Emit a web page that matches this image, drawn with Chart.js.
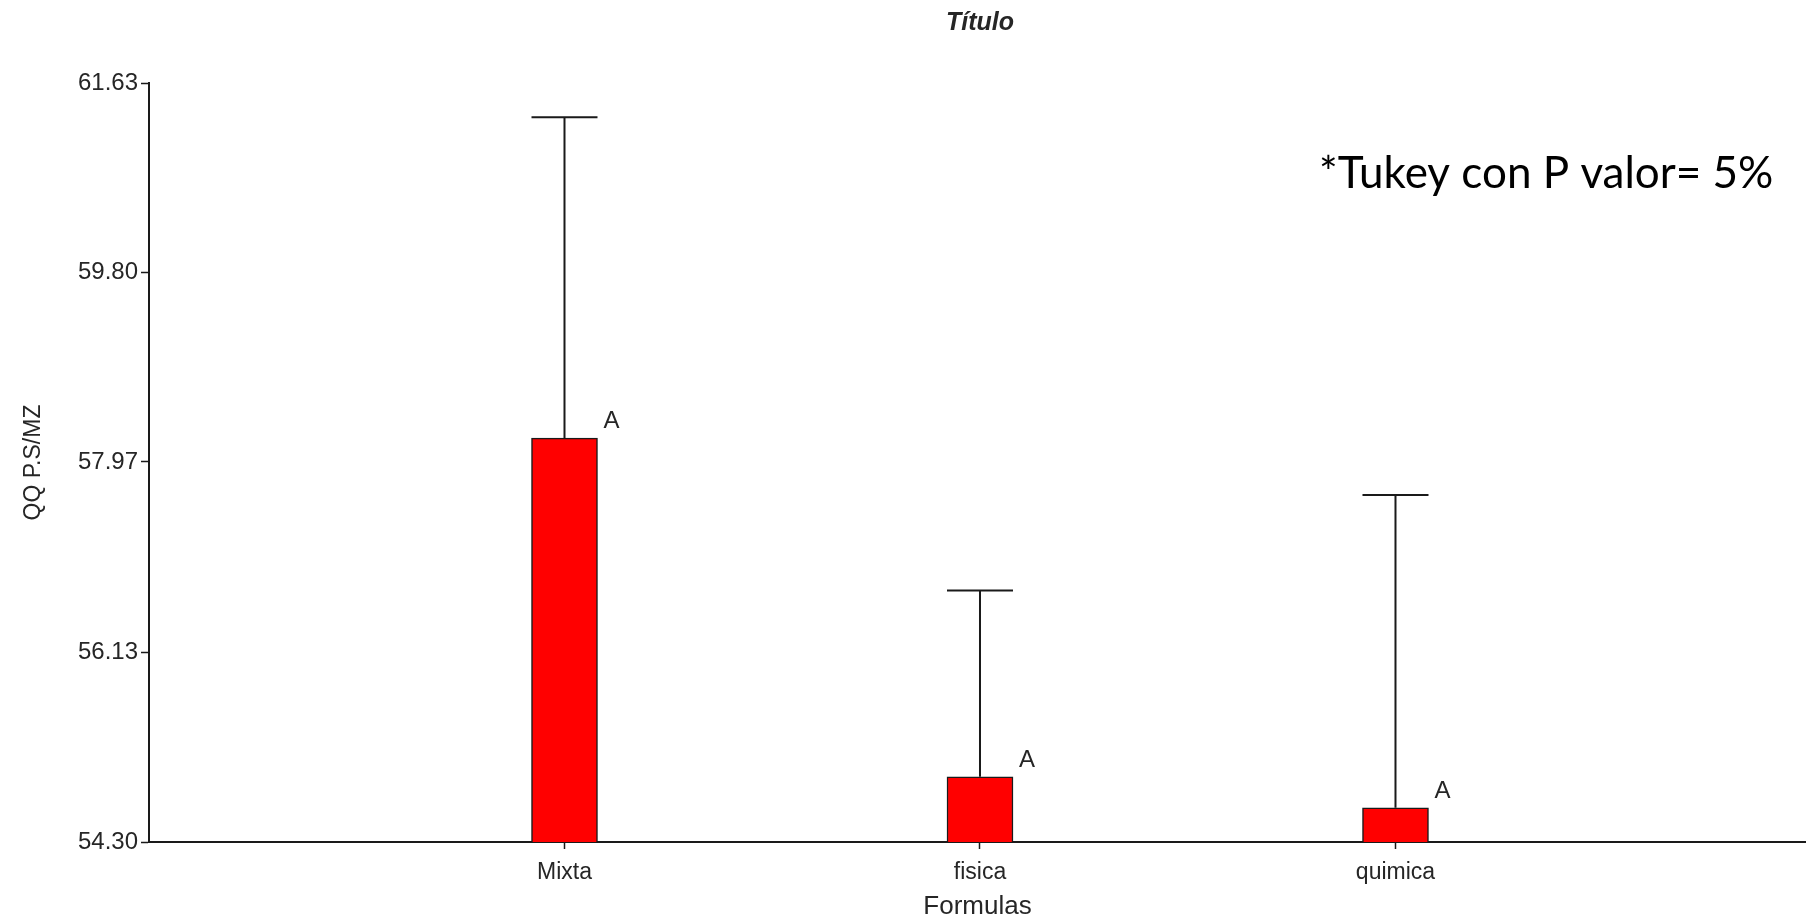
<!DOCTYPE html>
<html>
<head>
<meta charset="utf-8">
<script src="https://cdn.jsdelivr.net/npm/chart.js@4/dist/chart.umd.min.js"></script>
<style>
  html, body { margin: 0; padding: 0; background: #ffffff; overflow: hidden; }
  canvas { display: block; }
</style>
</head>
<body>
<canvas id="chart" width="1806" height="922"></canvas>
<script>
// Treatment means with the upper end of each error bar (QQ P.S/MZ)
const categories = ['Mixta', 'fisica', 'quimica'];
const means = [58.20, 54.93, 54.63];
const upperLimits = [61.30, 56.73, 57.65];
const tukeyLetters = ['A', 'A', 'A'];
const yTicks = [54.30, 56.13, 57.97, 59.80, 61.63];
const yMin = 54.30;
const yMax = 61.63;

const chartTitle = 'Título';
const yTitle = 'QQ P.S/MZ';
const xTitle = 'Formulas';
const note = '*Tukey con P valor= 5%';

const ink = '#1a1a1a';
const textInk = '#262626';
const labelFont = '"Liberation Sans", Arial, sans-serif';

// Error bars, group letters, title and the Tukey note
const extras = {
  id: 'extras',
  afterDatasetsDraw(chart) {
    const { ctx, scales: { x, y } } = chart;
    const meta = chart.getDatasetMeta(0);
    ctx.save();
    meta.data.forEach((bar, i) => {
      const cx = x.getPixelForValue(i + 1);
      const yTop = y.getPixelForValue(means[i]);
      const yUp = y.getPixelForValue(upperLimits[i]);
      const half = bar.width / 2;
      ctx.strokeStyle = ink;
      ctx.lineWidth = 2;
      ctx.beginPath();
      ctx.moveTo(cx, yTop);
      ctx.lineTo(cx, yUp);
      ctx.moveTo(cx - half, yUp);
      ctx.lineTo(cx + half, yUp);
      ctx.stroke();

      ctx.fillStyle = textInk;
      ctx.font = '24px ' + labelFont;
      ctx.textAlign = 'left';
      ctx.textBaseline = 'alphabetic';
      ctx.fillText(tukeyLetters[i], cx + half + 6, yTop - 10);
    });

    ctx.fillStyle = textInk;
    ctx.font = 'italic bold 25px ' + labelFont;
    ctx.textAlign = 'center';
    ctx.textBaseline = 'middle';
    ctx.fillText(chartTitle, x.getPixelForValue(2), 23);

    ctx.fillStyle = '#000';
    ctx.font = '44px Lato, "Open Sans", sans-serif';
    ctx.textAlign = 'left';
    ctx.textBaseline = 'alphabetic';
    ctx.fillText(note, 1319, 188);
    ctx.restore();
  }
};

new Chart(document.getElementById('chart'), {
  type: 'bar',
  data: {
    datasets: [{
      data: categories.map((c, i) => ({ x: i + 1, y: [yMin, means[i]] })),
      backgroundColor: '#ff0000',
      borderColor: '#1a1a1a',
      borderWidth: 1.5,
      borderSkipped: 'bottom',
      barThickness: 66
    }]
  },
  options: {
    responsive: false,
    animation: false,
    devicePixelRatio: 1,
    layout: { padding: { top: 83, right: 0, bottom: 0, left: 20 } },
    plugins: {
      legend: { display: false },
      tooltip: { enabled: false },
      title: { display: false }
    },
    scales: {
      x: {
        type: 'linear',
        offset: false,
        min: 0,
        max: 3.988,
        afterBuildTicks(scale) {
          scale.ticks = categories.map((c, i) => ({ value: i + 1 }));
        },
        afterFit(scale) { scale.height = 80; },
        ticks: {
          callback: (v) => categories[v - 1],
          color: textInk,
          font: { family: labelFont, size: 23 },
          padding: 10,
          maxRotation: 0,
          autoSkip: false
        },
        grid: { offset: false, drawOnChartArea: false, color: ink, tickLength: 7, tickWidth: 1.5 },
        border: { color: ink, width: 2 },
        title: {
          display: true,
          text: xTitle,
          color: textInk,
          font: { family: labelFont, size: 26 },
          padding: 0
        }
      },
      y: {
        min: yMin,
        max: yMax,
        afterBuildTicks(scale) {
          scale.ticks = yTicks.map(v => ({ value: v }));
        },
        afterFit(scale) { scale.width = 129; },
        ticks: {
          callback: (v) => v.toFixed(2),
          color: textInk,
          font: { family: labelFont, size: 24 },
          padding: 3,
          autoSkip: false
        },
        grid: { drawOnChartArea: false, color: ink, tickLength: 8, tickWidth: 1.5 },
        border: { color: ink, width: 2 },
        title: {
          display: true,
          text: yTitle,
          color: textInk,
          font: { family: labelFont, size: 23 },
          padding: 0
        }
      }
    }
  },
  plugins: [extras]
});
</script>
</body>
</html>
